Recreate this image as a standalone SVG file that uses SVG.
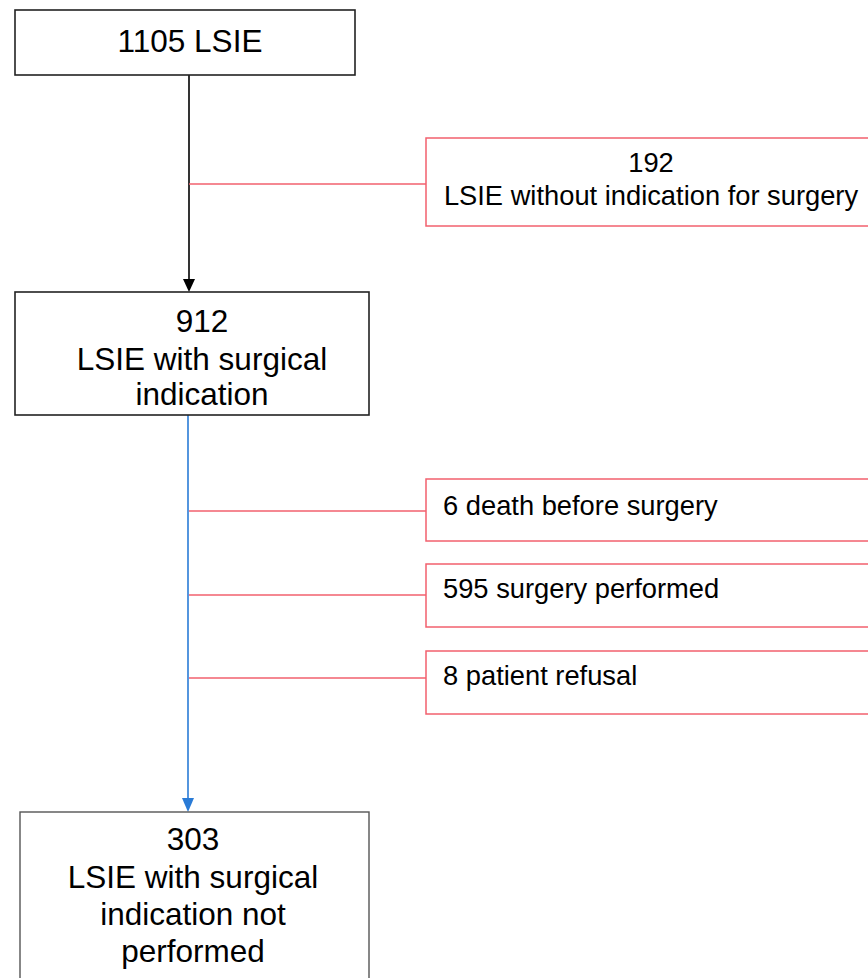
<svg xmlns="http://www.w3.org/2000/svg" width="868" height="978" viewBox="0 0 868 978">
<style>
.box{fill:#fff;stroke:#222;stroke-width:1.6}
.gbox{fill:#fff;stroke:#555;stroke-width:1.4}
.rbox{fill:#fff;stroke:#f2606e;stroke-width:1.5}
.big{font-family:"Liberation Sans",Arial,sans-serif;font-size:31.5px;fill:#000;text-anchor:middle}
.sm{font-family:"Liberation Sans",Arial,sans-serif;font-size:27.3px;fill:#000}
.rl{stroke:#f2606e;stroke-width:1.5;fill:none}
</style>
<rect width="868" height="978" fill="#fff"/>
<g id="connectors">
<line x1="189" y1="75" x2="189" y2="281" stroke="#000" stroke-width="1.6"/>
<path d="M183,279 L195,279 L189,292 Z" fill="#000"/>
<line x1="188" y1="415" x2="188" y2="800" stroke="#2a7bd6" stroke-width="1.6"/>
<path d="M182,798 L194,798 L188,812 Z" fill="#2a7bd6"/>
<line class="rl" x1="189" y1="184" x2="426" y2="184"/>
<line class="rl" x1="189" y1="511" x2="426" y2="511"/>
<line class="rl" x1="189" y1="595" x2="426" y2="595"/>
<line class="rl" x1="189" y1="678" x2="426" y2="678"/>
</g>
<g id="n1105">
<rect class="box" x="15" y="10" width="340" height="65"/>
<text class="big" x="190" y="52">1105 LSIE</text>
</g>
<g id="n192">
<rect class="rbox" x="426" y="138" width="460" height="88"/>
<text class="sm" x="651" y="172" text-anchor="middle">192</text>
<text class="sm" x="651" y="205" text-anchor="middle">LSIE without indication for surgery</text>
</g>
<g id="n912">
<rect class="box" x="15" y="292" width="354" height="123"/>
<text class="big" x="202" y="332">912</text>
<text class="big" x="202" y="370">LSIE with surgical</text>
<text class="big" x="202" y="405">indication</text>
</g>
<g id="n6">
<rect class="rbox" x="426" y="479" width="460" height="62"/>
<text class="sm" x="443" y="515">6 death before surgery</text>
</g>
<g id="n595">
<rect class="rbox" x="426" y="564" width="460" height="63"/>
<text class="sm" x="443" y="598">595 surgery performed</text>
</g>
<g id="n8">
<rect class="rbox" x="426" y="651" width="460" height="63"/>
<text class="sm" x="443" y="685">8 patient refusal</text>
</g>
<g id="n303">
<rect class="gbox" x="20" y="812" width="349" height="190"/>
<text class="big" x="193" y="850">303</text>
<text class="big" x="193" y="888">LSIE with surgical</text>
<text class="big" x="193" y="925">indication not</text>
<text class="big" x="193" y="962">performed</text>
</g>
</svg>
